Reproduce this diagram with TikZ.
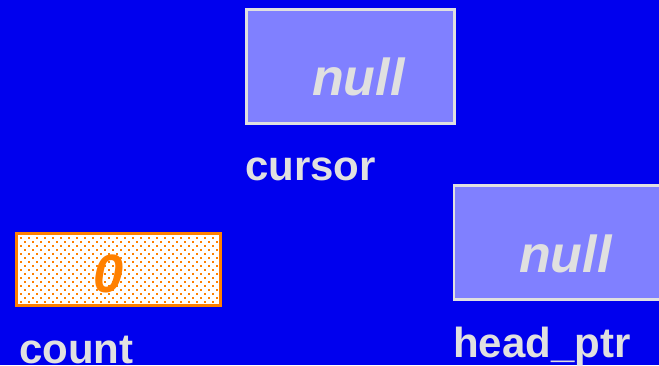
\documentclass[tikz,border=0pt]{standalone}
\usepackage{fontspec}
\setmainfont{Liberation Sans}
\definecolor{slidebg}{RGB}{0,0,238}
\definecolor{cellfill}{RGB}{128,128,255}
\definecolor{cellline}{RGB}{224,224,224}
\definecolor{labeltext}{RGB}{224,224,224}
\definecolor{countorange}{RGB}{255,128,0}
\tikzset{
  cell/.style={draw=cellline, line width=2.6pt, fill=cellfill, inner sep=0pt},
  countcell/.style={draw=countorange, line width=2.6pt, inner sep=0pt},
  varname/.style={anchor=base west, inner sep=0pt, text=labeltext,
    font=\fontsize{42}{48}\selectfont\bfseries},
  nullval/.style={anchor=base west, inner sep=0pt, text=labeltext,
    font=\fontsize{52}{60}\selectfont\bfseries\itshape},
  countval/.style={anchor=base west, inner sep=0pt, text=countorange,
    font=\fontsize{54}{60}\selectfont\bfseries\itshape},
}
\begin{document}
\begin{tikzpicture}[x=1pt,y=-1pt]
  \useasboundingbox (0,0) rectangle (659,365);
  \clip (0,0) rectangle (659,365);
  \fill[slidebg] (0,0) rectangle (659,365);

  % cursor variable
  \node[cell, minimum width=208.4pt, minimum height=114.4pt] (cursorbox) at (350.5,66.5) {};
  \node[nullval] (cursornull) at (312,95) {null};
  \node[varname] (cursorlbl) at (245,180) {cursor};

  % head_ptr variable (box runs off the right edge)
  \node[cell, minimum width=240pt, minimum height=114.4pt] (headbox) at (574,242.5) {};
  \node[nullval] (headnull) at (519,272) {null};
  \node[varname] (headlbl) at (453,357) {head\_ptr};

  % count variable with dotted fill
  \node[fill=white, inner sep=0pt, minimum width=207pt, minimum height=75pt] (countbg) at (118.5,269.5) {};
  \begin{scope}
    \clip (16,233) rectangle (221,306);
    \foreach \i in {0,...,26} {
      \foreach \j in {0,...,9} {
        \fill[countorange] (20.2+8*\i,236.9+8*\j) rectangle ++(1.8,1.8);
        \fill[countorange] (24.2+8*\i,240.9+8*\j) rectangle ++(1.8,1.8);
      }
    }
  \end{scope}
  \node[countcell, minimum width=204.4pt, minimum height=72.4pt] (countbox) at (118.5,269.5) {};
  \node[countval] (countnum) at (93,292.5) {0};
  \node[varname] (countlbl) at (19,363.5) {count};
\end{tikzpicture}
\end{document}
